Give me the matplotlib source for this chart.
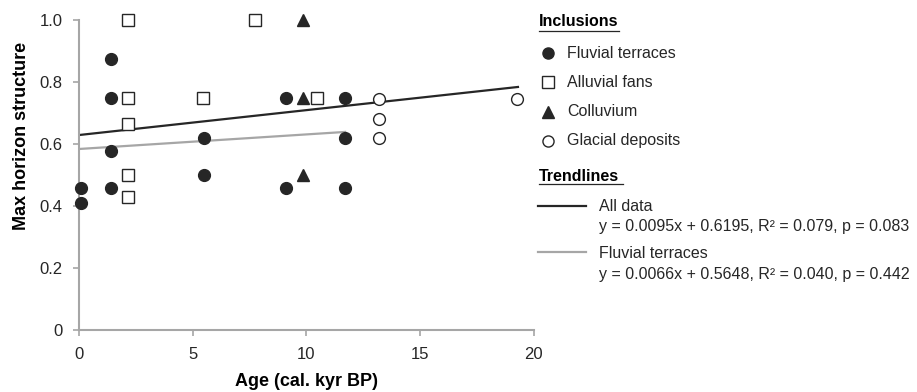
"""Max horizon structure vs age"""

import matplotlib
matplotlib.use('Agg')
import matplotlib.pyplot as plt
from matplotlib.lines import Line2D

plt.rcParams['font.family'] = ['Liberation Sans', 'DejaVu Sans']

# data
fluvial_x = [0.07, 0.07, 1.4, 1.4, 1.4, 1.4, 5.5, 5.5, 9.1, 9.1, 11.7, 11.7, 11.7]
fluvial_y = [0.457, 0.41, 0.875, 0.75, 0.577, 0.457, 0.62, 0.5, 0.75, 0.457, 0.75, 0.62, 0.457]

fans_x = [2.15, 2.15, 2.15, 2.15, 2.15, 5.45, 7.75, 10.45]
fans_y = [1.0, 0.75, 0.665, 0.5, 0.43, 0.75, 1.0, 0.75]

colluvium_x = [9.85, 9.85, 9.85]
colluvium_y = [1.0, 0.75, 0.5]

glacial_x = [13.2, 13.2, 13.2, 19.25]
glacial_y = [0.745, 0.68, 0.62, 0.745]

# trendlines as drawn (start/end)
trend_all_x = [0, 19.3]
trend_all_y = [0.629, 0.784]
trend_fluv_x = [0, 11.7]
trend_fluv_y = [0.584, 0.639]

eq_all = 'y = 0.0095x + 0.6195, R² = 0.079, p = 0.083'
eq_fluv = 'y = 0.0066x + 0.5648, R² = 0.040, p = 0.442'

dark = '#262626'
grey_line = '#a6a6a6'
spine_col = '#a6a6a6'

fig = plt.figure(figsize=(9.17, 3.92), dpi=100)
ax = fig.add_axes([0.0862, 0.158, 0.496, 0.791])

ax.plot(trend_all_x, trend_all_y, color=dark, linewidth=1.6, zorder=2)
ax.plot(trend_fluv_x, trend_fluv_y, color=grey_line, linewidth=1.6, zorder=2)

ms = 8.5
ax.plot(fluvial_x, fluvial_y, 'o', ms=ms, color=dark, mec=dark, zorder=3, clip_on=False)
ax.plot(fans_x, fans_y, 's', ms=ms, mfc='white', mec=dark, mew=1.0, zorder=3, clip_on=False)
ax.plot(colluvium_x, colluvium_y, '^', ms=ms + 0.5, color=dark, mec=dark, zorder=3, clip_on=False)
ax.plot(glacial_x, glacial_y, 'o', ms=ms, mfc='white', mec=dark, mew=1.0, zorder=3, clip_on=False)

ax.set_xlim(0, 20)
ax.set_ylim(0, 1.0)
ax.set_xticks([0, 5, 10, 15, 20])
ax.set_yticks([0, 0.2, 0.4, 0.6, 0.8, 1.0])
ax.set_yticklabels(['0', '0.2', '0.4', '0.6', '0.8', '1.0'])
for s in ['top', 'right']:
    ax.spines[s].set_visible(False)
for s in ['left', 'bottom']:
    ax.spines[s].set_color(spine_col)
    ax.spines[s].set_linewidth(1.5)
ax.tick_params(axis='both', direction='out', length=4, width=1.2, color=spine_col,
               labelsize=12, labelcolor='#262626', pad=8)

ax.set_xlabel('Age (cal. kyr BP)', fontsize=13, fontweight='bold', labelpad=8)
ax.set_ylabel('Max horizon structure', fontsize=13, fontweight='bold')
# label sits above the axis centre in the original
ax.yaxis.set_label_coords(-0.107, 0.626)

# custom legend on the right
def fx(px):
    return px / 917

def fy(py):
    return 1 - py / 392

fs = 11.5
fig.text(fx(539), fy(22), 'Inclusions', fontsize=fs, fontweight='bold', va='center', ha='left')
fig.add_artist(Line2D([fx(539), fx(619)], [fy(31), fy(31)], color='#262626', linewidth=0.9))

legend_items = [
    ('o', dark, 'Fluvial terraces'),
    ('s', 'white', 'Alluvial fans'),
    ('^', dark, 'Colluvium'),
    ('o', 'white', 'Glacial deposits'),
]
for i, (m, fc, lab) in enumerate(legend_items):
    yy = 53 + i * 29.3
    fig.add_artist(Line2D([fx(548)], [fy(yy)], marker=m, ms=8 if m != '^' else 8.5,
                          mfc=fc, mec=dark, mew=1.0, linestyle='none'))
    fig.text(fx(567), fy(yy), lab, fontsize=fs, va='center', ha='left', color='#262626')

fig.text(fx(539), fy(176), 'Trendlines', fontsize=fs, fontweight='bold', va='center', ha='left')
fig.add_artist(Line2D([fx(539), fx(623)], [fy(184), fy(184)], color='#262626', linewidth=0.9))

fig.add_artist(Line2D([fx(538), fx(586)], [fy(206), fy(206)], color=dark, linewidth=1.6))
fig.text(fx(599), fy(207), 'All data', fontsize=fs, va='center', ha='left', color='#262626')
fig.text(fx(599), fy(226), eq_all, fontsize=fs, va='center', ha='left', color='#262626')

fig.add_artist(Line2D([fx(538), fx(586)], [fy(252), fy(252)], color=grey_line, linewidth=1.6))
fig.text(fx(599), fy(253), 'Fluvial terraces', fontsize=fs, va='center', ha='left', color='#262626')
fig.text(fx(599), fy(275), eq_fluv, fontsize=fs, va='center', ha='left', color='#262626')

plt.savefig('out.png', dpi=100)
